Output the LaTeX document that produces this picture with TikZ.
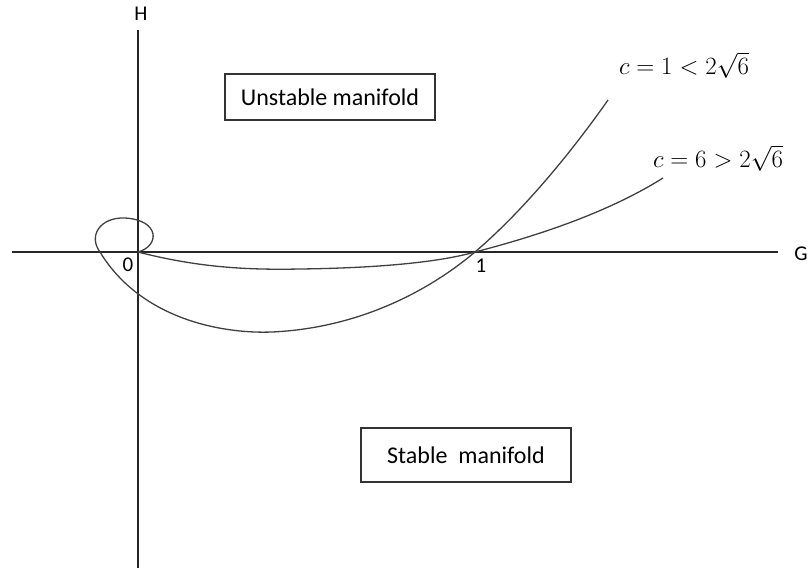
\documentclass[tikz,border=0pt]{standalone}
\usepackage{fontspec}
\setmainfont{Carlito}
\usetikzlibrary{positioning}

\begin{document}
\begin{tikzpicture}[x=1pt,y=-1pt,
  font=\fontsize{24}{28}\selectfont,
  axis/.style={line width=1.4pt,black!85},
  orbit/.style={line width=1.3pt,black!75},
  region/.style={draw=black!80,line width=1.4pt,fill=white,minimum width=210pt,
                 minimum height=46pt,inner sep=0pt},
  lbl/.style={inner sep=1pt,font=\fontsize{21}{24}\selectfont}]
  \useasboundingbox (0,0) rectangle (809,571);
  % axes
  \coordinate (O) at (138,252);
  \coordinate (one) at (475,252);
  \coordinate (xl) at (12,252);
  \coordinate (xr) at (778,252);
  \coordinate (yt) at (138,30);
  \coordinate (yb) at (138,568);
  \draw[axis] (xl) -- (xr);
  \draw[axis] (yt) -- (yb);
  \node[lbl] (G) at (801,254) {G};
  \node[lbl] (H) at (141,14) {H};
  \node[lbl] (zero) at (128,265) {0};
  \node[lbl] (unit) at (481,266) {1};
  % c = 1 (spiral at origin)
  \draw[orbit] (O) .. controls (160,246) and (160,220) .. (125,218)
    .. controls (100,217) and (88,236) .. (100,252)
    .. controls (140,318) and (220,334) .. (272,332)
    .. controls (360,328) and (430,290) .. (one)
    .. controls (530,205) and (580,140) .. (608,100);
  % c = 6
  \draw[orbit] (O) .. controls (200,268) and (250,270) .. (300,269)
    .. controls (380,268) and (440,262) .. (one)
    .. controls (560,230) and (620,205) .. (663,178);
  % labels
  \node[lbl,font=\fontsize{26}{30}\selectfont] (c1) at (684,65) {$c=1<2\sqrt{6}$};
  \node[lbl,font=\fontsize{26}{30}\selectfont] (c6) at (718,158) {$c=6>2\sqrt{6}$};
  \node[region] (unst) at (330,97) {Unstable manifold};
  \node[region,minimum height=54pt] (stab) at (466,455) {Stable\ \ manifold};
\end{tikzpicture}
\end{document}
